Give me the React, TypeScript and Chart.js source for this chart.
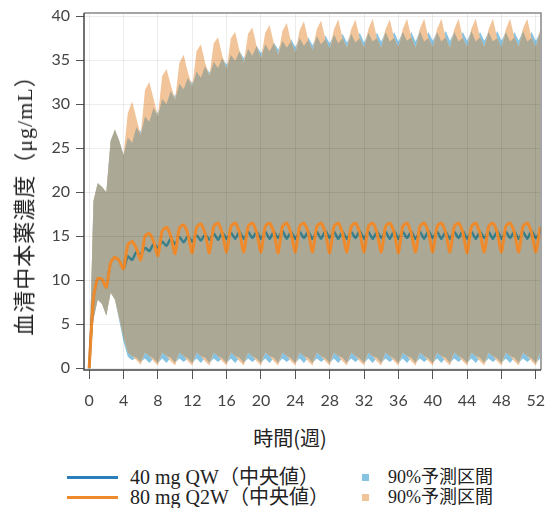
import React, { useEffect, useRef } from "react";
import { Chart, registerables } from "chart.js";

Chart.register(...registerables);

// Time in weeks (sampling grid)
const WEEKS = [
  0, 0.5, 1, 1.5, 2, 2.5, 3, 3.5, 4, 4.5, 5, 5.5, 6, 6.5, 7, 7.5, 8, 8.5, 9, 9.5,
  10, 10.5, 11, 11.5, 12, 12.5, 13, 13.5, 14, 14.5, 15, 15.5, 16, 16.5, 17, 17.5, 18, 18.5, 19, 19.5,
  20, 20.5, 21, 21.5, 22, 22.5, 23, 23.5, 24, 24.5, 25, 25.5, 26, 26.5, 27, 27.5, 28, 28.5, 29, 29.5,
  30, 30.5, 31, 31.5, 32, 32.5, 33, 33.5, 34, 34.5, 35, 35.5, 36, 36.5, 37, 37.5, 38, 38.5, 39, 39.5,
  40, 40.5, 41, 41.5, 42, 42.5, 43, 43.5, 44, 44.5, 45, 45.5, 46, 46.5, 47, 47.5, 48, 48.5, 49, 49.5,
  50, 50.5, 51, 51.5, 52, 52.5,
];

// 40 mg QW median
const MEDIAN_40QW = [
  0, 8.0, 10.2, 10.1, 9.2, 12.0, 12.6, 12.2,
  11.3, 12.7, 12.3, 13.2, 12.9, 13.7, 13.3, 14.1,
  13.7, 14.4, 13.9, 14.7, 14.1, 14.9, 14.3, 15.0,
  14.4, 15.1, 14.5, 15.2, 14.6, 15.3, 14.6, 15.4,
  14.7, 15.4, 14.7, 15.5, 14.7, 15.5, 14.8, 15.5,
  14.7, 15.5, 14.7, 15.5, 14.8, 15.6, 14.7, 15.5,
  14.7, 15.5, 14.8, 15.5, 14.7, 15.5, 14.7, 15.6,
  14.8, 15.5, 14.7, 15.5, 14.7, 15.5, 14.8, 15.6,
  14.7, 15.5, 14.7, 15.5, 14.8, 15.5, 14.7, 15.6,
  14.7, 15.5, 14.8, 15.5, 14.7, 15.5, 14.7, 15.6,
  14.8, 15.5, 14.7, 15.5, 14.7, 15.5, 14.8, 15.6,
  14.7, 15.5, 14.7, 15.5, 14.8, 15.5, 14.7, 15.6,
  14.7, 15.5, 14.8, 15.5, 14.7, 15.5, 14.7, 15.6,
  14.8, 15.5,
];

// 80 mg Q2W median
const MEDIAN_80Q2W = [
  0, 8.0, 10.2, 10.1, 9.2, 12.0, 12.6, 12.2,
  11.3, 14.0, 14.4, 13.6, 12.3, 15.0, 15.3, 14.4,
  12.8, 15.6, 16.0, 15.0, 13.0, 15.9, 16.3, 15.2,
  13.1, 16.0, 16.4, 15.3, 13.1, 16.1, 16.5, 15.3,
  13.2, 16.1, 16.5, 15.4, 13.2, 16.1, 16.5, 15.4,
  13.2, 16.1, 16.5, 15.4, 13.1, 16.1, 16.5, 15.3,
  13.2, 16.1, 16.5, 15.4, 13.2, 16.1, 16.5, 15.4,
  13.1, 16.1, 16.5, 15.3, 13.2, 16.1, 16.5, 15.4,
  13.2, 16.1, 16.5, 15.4, 13.2, 16.1, 16.5, 15.4,
  13.1, 16.1, 16.5, 15.3, 13.2, 16.1, 16.5, 15.4,
  13.2, 16.1, 16.5, 15.4, 13.2, 16.1, 16.5, 15.4,
  13.1, 16.1, 16.5, 15.3, 13.2, 16.1, 16.5, 15.4,
  13.2, 16.1, 16.5, 15.4, 13.2, 16.1, 16.5, 15.4,
  13.2, 16.1,
];

// 90% prediction interval, 40 mg QW
const PI_UPPER_40QW = [
  0, 19.0, 21.0, 20.6, 20.0, 25.8, 27.1, 25.8,
  24.2, 26.2, 25.6, 27.4, 26.9, 28.6, 28.0, 29.6,
  29.0, 30.6, 30.0, 31.5, 30.9, 32.3, 31.7, 33.0,
  32.4, 33.7, 33.0, 34.3, 33.6, 34.8, 34.1, 35.2,
  34.5, 35.6, 34.9, 36.0, 35.2, 36.3, 35.5, 36.6,
  35.8, 36.8, 36.0, 37.0, 36.2, 37.2, 36.4, 37.4,
  36.5, 37.5, 36.6, 37.6, 36.7, 37.7, 36.8, 37.8,
  36.9, 37.9, 36.9, 38.0, 37.0, 38.0, 37.0, 38.1,
  37.0, 38.1, 37.1, 38.1, 37.1, 38.2, 37.1, 38.2,
  37.1, 38.2, 37.2, 38.2, 37.1, 38.3, 37.1, 38.2,
  37.2, 38.2, 37.1, 38.3, 37.2, 38.2, 37.1, 38.2,
  37.2, 38.3, 37.1, 38.2, 37.2, 38.2, 37.1, 38.3,
  37.2, 38.2, 37.1, 38.2, 37.2, 38.3, 37.1, 38.2,
  37.2, 38.2,
];
const PI_LOWER_40QW = [
  0, 5.6, 7.8, 7.3, 6.0, 8.6, 7.8, 5.4,
  3.0, 1.3, 0.9, 1.2, 0.7, 1.1, 0.6, 1.1,
  0.6, 1.1, 0.6, 1.2, 0.6, 1.1, 0.7, 1.1,
  0.6, 1.1, 0.6, 1.2, 0.6, 1.1, 0.7, 1.1,
  0.6, 1.1, 0.6, 1.2, 0.6, 1.1, 0.7, 1.1,
  0.6, 1.1, 0.6, 1.2, 0.6, 1.1, 0.7, 1.1,
  0.6, 1.1, 0.6, 1.2, 0.6, 1.1, 0.7, 1.1,
  0.6, 1.1, 0.6, 1.2, 0.6, 1.1, 0.7, 1.1,
  0.6, 1.1, 0.6, 1.2, 0.6, 1.1, 0.7, 1.1,
  0.6, 1.1, 0.6, 1.2, 0.6, 1.1, 0.7, 1.1,
  0.6, 1.1, 0.6, 1.2, 0.6, 1.1, 0.7, 1.1,
  0.6, 1.1, 0.6, 1.2, 0.6, 1.1, 0.7, 1.1,
  0.6, 1.1, 0.6, 1.2, 0.6, 1.1, 0.7, 1.1,
  0.6, 1.1,
];

// 90% prediction interval, 80 mg Q2W
const PI_UPPER_80Q2W = [
  0, 19.0, 21.0, 20.6, 20.0, 25.8, 27.1, 25.8,
  24.2, 29.0, 30.3, 28.4, 26.5, 31.6, 32.5, 30.6,
  28.6, 33.2, 34.0, 32.2, 30.5, 34.7, 35.6, 33.6,
  32.0, 36.0, 36.8, 34.7, 33.2, 36.9, 37.6, 35.5,
  34.0, 37.5, 38.2, 36.1, 34.7, 38.0, 38.7, 36.6,
  35.2, 38.1, 39.0, 36.9, 35.6, 38.3, 39.2, 37.1,
  35.9, 38.4, 39.4, 37.3, 36.1, 38.5, 39.5, 37.4,
  36.3, 38.5, 39.6, 37.5, 36.4, 38.5, 39.6, 37.5,
  36.4, 38.5, 39.7, 37.5, 36.4, 38.5, 39.6, 37.5,
  36.5, 38.5, 39.7, 37.6, 36.4, 38.6, 39.7, 37.5,
  36.5, 38.5, 39.7, 37.6, 36.4, 38.5, 39.7, 37.5,
  36.5, 38.6, 39.7, 37.6, 36.5, 38.5, 39.7, 37.5,
  36.4, 38.5, 39.7, 37.6, 36.5, 38.6, 39.7, 37.5,
  36.5, 38.5,
];
const PI_LOWER_80Q2W = [
  0, 5.6, 7.8, 7.3, 6.0, 8.6, 7.8, 5.7,
  3.6, 1.8, 1.4, 0.9, 0.4, 1.8, 1.4, 0.8,
  0.3, 1.8, 1.4, 0.8, 0.3, 1.8, 1.4, 0.8,
  0.3, 1.8, 1.4, 0.8, 0.3, 1.8, 1.4, 0.8,
  0.3, 1.8, 1.4, 0.8, 0.3, 1.8, 1.4, 0.8,
  0.3, 1.8, 1.4, 0.8, 0.3, 1.8, 1.4, 0.8,
  0.3, 1.8, 1.4, 0.8, 0.3, 1.8, 1.4, 0.8,
  0.3, 1.8, 1.4, 0.8, 0.3, 1.8, 1.4, 0.8,
  0.3, 1.8, 1.4, 0.8, 0.3, 1.8, 1.4, 0.8,
  0.3, 1.8, 1.4, 0.8, 0.3, 1.8, 1.4, 0.8,
  0.3, 1.8, 1.4, 0.8, 0.3, 1.8, 1.4, 0.8,
  0.3, 1.8, 1.4, 0.8, 0.3, 1.8, 1.4, 0.8,
  0.3, 1.8, 1.4, 0.8, 0.3, 1.8, 1.4, 0.8,
  0.3, 1.8,
];

const X_TICKS = [0, 4, 8, 12, 16, 20, 24, 28, 32, 36, 40, 44, 48, 52];
const Y_TICKS = [0, 5, 10, 15, 20, 25, 30, 35, 40];

const X_TITLE = "時間(週)";
const Y_TITLE = "血清中本薬濃度（μg/mL）";
const LINE_LABELS = ["40 mg QW（中央値）", "80 mg Q2W（中央値）"];
const BAND_LABELS = ["90%予測区間", "90%予測区間"];

const BLUE_LEGEND = "#2a7fba";
const BLUE_LINE = "#3a7f8c";
const ORANGE_LINE = "#ee8a2c";
const BLUE_BAND = "#86c3e3";
const ORANGE_BAND = "#f2c49a";
const OVERLAP = "#aba995";

const framePlugin = {
  id: "frame",
  afterDraw(chart: any) {
    const { ctx, chartArea: a } = chart;
    ctx.save();
    ctx.lineWidth = 1.5;
    ctx.strokeStyle = "#888";
    ctx.beginPath();
    ctx.moveTo(a.left, a.top);
    ctx.lineTo(a.right, a.top);
    ctx.lineTo(a.right, a.bottom);
    ctx.stroke();
    ctx.strokeStyle = "#444";
    ctx.beginPath();
    ctx.moveTo(a.left, a.top);
    ctx.lineTo(a.left, a.bottom);
    ctx.lineTo(a.right, a.bottom);
    ctx.stroke();
    ctx.restore();
  },
};

export default function App() {
  const ref = useRef<HTMLCanvasElement>(null);

  useEffect(() => {
    if (!ref.current) return;
    const pts = (ys: number[]) => WEEKS.map((x, i) => ({ x, y: ys[i] }));
    const overlapLow = WEEKS.map((_, i) => Math.max(PI_LOWER_40QW[i], PI_LOWER_80Q2W[i]));
    const overlapHigh = WEEKS.map((_, i) => Math.min(PI_UPPER_40QW[i], PI_UPPER_80Q2W[i]));
    const band = {
      pointRadius: 0,
      borderWidth: 0,
      borderColor: "transparent",
      tension: 0,
      fill: false as any,
    };
    const tickFont = { family: "Lato, 'Liberation Sans', sans-serif", size: 16 };
    const chart = new Chart(ref.current, {
      type: "line",
      data: {
        datasets: [
          { ...band, label: LINE_LABELS[1], data: pts(MEDIAN_80Q2W), borderColor: ORANGE_LINE, borderWidth: 3, tension: 0.2 },
          { ...band, label: LINE_LABELS[0], data: pts(MEDIAN_40QW), borderColor: BLUE_LINE, borderWidth: 2.5, tension: 0.2 },
          { ...band, label: "overlap-upper", data: pts(overlapHigh), fill: "+1", backgroundColor: OVERLAP },
          { ...band, label: "overlap-lower", data: pts(overlapLow) },
          { ...band, label: BAND_LABELS[1], data: pts(PI_UPPER_80Q2W), fill: "+1", backgroundColor: ORANGE_BAND },
          { ...band, label: "lower-80", data: pts(PI_LOWER_80Q2W) },
          { ...band, label: BAND_LABELS[0], data: pts(PI_UPPER_40QW), fill: "+1", backgroundColor: BLUE_BAND },
          { ...band, label: "lower-40", data: pts(PI_LOWER_40QW) },
        ],
      },
      options: {
        animation: false,
        responsive: false,
        devicePixelRatio: 1,
        layout: { padding: { top: 13, right: 4, left: 0, bottom: 0 } },
        plugins: {
          legend: { display: false },
          tooltip: { enabled: false },
        },
        scales: {
          x: {
            type: "linear",
            min: -0.6,
            max: 52.6,
            afterBuildTicks: (s: any) => {
              s.ticks = X_TICKS.map((v) => ({ value: v }));
            },
            afterFit: (s: any) => {
              s.height = 40;
              s.paddingLeft = 0;
              s.paddingRight = 0;
            },
            grid: { color: "rgba(0,0,0,0.07)", lineWidth: 1, z: 1, tickColor: "#555", tickLength: 9 },
            border: { display: false },
            ticks: { font: tickFont, color: "#444", padding: 12, maxRotation: 0, autoSkip: false },
          },
          y: {
            type: "linear",
            min: -0.2,
            max: 40.35,
            afterBuildTicks: (s: any) => {
              s.ticks = Y_TICKS.map((v) => ({ value: v }));
            },
            afterFit: (s: any) => {
              s.width = 84;
              s.paddingTop = 0;
              s.paddingBottom = 0;
            },
            grid: { color: "rgba(0,0,0,0.07)", lineWidth: 1, z: 1, tickColor: "#555", tickLength: 8 },
            border: { display: false },
            ticks: { font: tickFont, color: "#444", padding: 6, autoSkip: false },
          },
        },
      } as any,
      plugins: [framePlugin],
    });
    return () => chart.destroy();
  }, []);

  const legendText: React.CSSProperties = {
    position: "absolute",
    transform: "translateY(-50%)",
    whiteSpace: "nowrap",
    fontFamily: "'Liberation Serif', 'Noto Sans CJK JP', serif",
    color: "#222",
    lineHeight: 1,
  };

  return (
    <div style={{ position: "absolute", left: 0, top: 0, width: 545, height: 508, background: "#fff", overflow: "hidden" }}>
      <canvas ref={ref} width={545} height={410} style={{ position: "absolute", left: 0, top: 0 }} />
      <div
        style={{
          position: "absolute",
          left: 25,
          top: 200,
          transform: "translate(-50%, -50%) rotate(-90deg)",
          whiteSpace: "nowrap",
          fontFamily: "'Liberation Serif', 'Noto Sans CJK JP', serif",
          fontSize: 22,
          letterSpacing: 1,
          color: "#222",
          lineHeight: 1,
        }}
      >
        {Y_TITLE}
      </div>
      <div
        style={{
          position: "absolute",
          left: 290,
          top: 438,
          transform: "translate(-50%, -50%)",
          whiteSpace: "nowrap",
          fontFamily: "'Noto Sans CJK JP', sans-serif",
          fontSize: 20,
          color: "#222",
          lineHeight: 1,
        }}
      >
        {X_TITLE}
      </div>
      {/* legend */}
      <div style={{ position: "absolute", left: 67, top: 475.5, width: 51, height: 3, background: BLUE_LEGEND }} />
      <div style={{ ...legendText, left: 130, top: 477, fontSize: 20 }}>{LINE_LABELS[0]}</div>
      <div style={{ position: "absolute", left: 67, top: 495.5, width: 51, height: 3, background: ORANGE_LINE }} />
      <div style={{ ...legendText, left: 130, top: 497, fontSize: 20 }}>{LINE_LABELS[1]}</div>
      <div style={{ position: "absolute", left: 362, top: 473.5, width: 7, height: 7, background: BLUE_BAND }} />
      <div style={{ ...legendText, left: 388, top: 477, fontSize: 18 }}>{BAND_LABELS[0]}</div>
      <div style={{ position: "absolute", left: 362, top: 493.5, width: 7, height: 7, background: ORANGE_BAND }} />
      <div style={{ ...legendText, left: 388, top: 497, fontSize: 18 }}>{BAND_LABELS[1]}</div>
    </div>
  );
}
